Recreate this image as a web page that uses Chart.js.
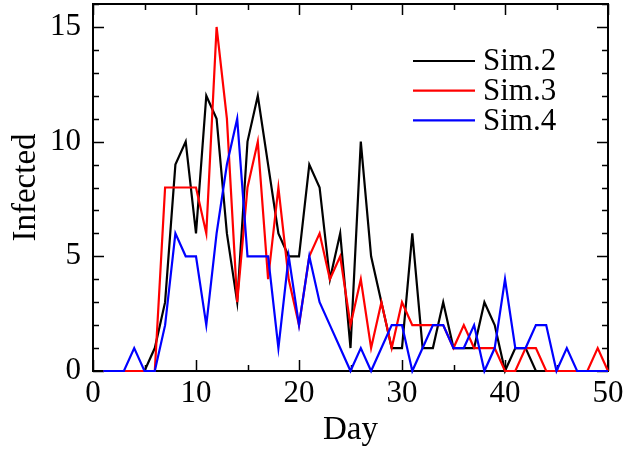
<!DOCTYPE html>
<html>
<head>
<meta charset="utf-8">
<script src="https://cdn.jsdelivr.net/npm/chart.js@4.4.1/dist/chart.umd.min.js"></script>
<style>
  html, body { margin: 0; padding: 0; background: #fff; }
  canvas { display: block; }
</style>
</head>
<body>
<canvas id="chart" width="642" height="450"></canvas>
<script>
// days 1..50
const days = [
  1, 2, 3, 4, 5, 6, 7, 8, 9, 10, 11, 12, 13, 14, 15, 16, 17, 18, 19, 20, 21, 22, 23, 24, 25,
  26, 27, 28, 29, 30, 31, 32, 33, 34, 35, 36, 37, 38, 39, 40, 41, 42, 43, 44, 45, 46, 47, 48, 49, 50
];
const sim2 = [
  0, 0, 0, 0, 0, 1, 3, 9, 10, 6, 12, 11, 6, 3, 10, 12, 9, 6, 5, 5, 9, 8, 4, 6, 1,
  10, 5, 3, 1, 1, 6, 1, 1, 3, 1, 1, 1, 3, 2, 0, 1, 1, 0, 0, 0, 0, 0, 0, 0, 0
];
const sim3 = [
  0, 0, 0, 0, 0, 0, 8, 8, 8, 8, 6, 15, 11, 3, 8, 10, 4, 8, 4, 2, 5, 6, 4, 5, 2,
  4, 1, 3, 1, 3, 2, 2, 2, 2, 1, 2, 1, 1, 1, 0, 0, 1, 1, 0, 0, 0, 0, 0, 1, 0
];
const sim4 = [
  0, 0, 0, 1, 0, 0, 2, 6, 5, 5, 2, 6, 9, 11, 5, 5, 5, 1, 5, 2, 5, 3, 2, 1, 0,
  1, 0, 1, 2, 2, 0, 1, 2, 2, 1, 1, 2, 0, 1, 4, 1, 1, 2, 2, 0, 1, 0, 0, 0, 0
];
const seriesNames = ["Sim.2", "Sim.3", "Sim.4"];
const seriesColors = ["#000000", "#ff0000", "#0000ff"];
const xTicks = [0, 10, 20, 30, 40, 50];
const yTicks = [0, 5, 10, 15];

const serif = "Liberation Serif";

const toPoints = (vals) => vals.map((v, i) => ({ x: days[i], y: v }));

// no automatic label padding, the plot box is fixed by afterFit
const noPad = (s) => {
  s.paddingTop = 0; s.paddingBottom = 0;
  s.paddingLeft = 0; s.paddingRight = 0;
};

// axis box with inward ticks on all four sides, plus the legend
const framePlugin = {
  id: "frame",
  beforeDatasetsDraw(chart) {
    const { ctx, chartArea: a, scales: { x, y } } = chart;
    ctx.save();
    ctx.strokeStyle = "#000";
    ctx.lineWidth = 1.5;
    ctx.beginPath();
    for (let v = x.min; v <= x.max; v += 5) {
      const px = Math.round(x.getPixelForValue(v)) + 0.5;
      const len = v % 10 === 0 ? 11 : 6;
      ctx.moveTo(px, a.bottom); ctx.lineTo(px, a.bottom - len);
      ctx.moveTo(px, a.top); ctx.lineTo(px, a.top + len);
    }
    for (let v = y.min; v <= y.max; v += 1) {
      const py = Math.round(y.getPixelForValue(v)) + 0.5;
      const len = v % 5 === 0 ? 11 : 6;
      ctx.moveTo(a.left, py); ctx.lineTo(a.left + len, py);
      ctx.moveTo(a.right, py); ctx.lineTo(a.right - len, py);
    }
    ctx.stroke();
    ctx.lineWidth = 2;
    ctx.strokeRect(a.left, a.top, a.right - a.left, a.bottom - a.top);
    ctx.restore();
  },
  afterDraw(chart) {
    const { ctx } = chart;
    ctx.save();
    ctx.font = '31px "' + serif + '"';
    ctx.textBaseline = "middle";
    ctx.textAlign = "left";
    chart.data.datasets.forEach((ds, i) => {
      const yy = 61 + i * 29.7;
      ctx.strokeStyle = ds.borderColor;
      ctx.lineWidth = 2.2;
      ctx.beginPath();
      ctx.moveTo(413, yy);
      ctx.lineTo(475, yy);
      ctx.stroke();
      ctx.fillStyle = "#000";
      ctx.fillText(ds.label, 483, yy + 1);
    });
    ctx.restore();
  }
};

new Chart(document.getElementById("chart"), {
  type: "line",
  data: {
    datasets: [sim2, sim3, sim4].map((vals, i) => ({
      label: seriesNames[i],
      data: toPoints(vals),
      borderColor: seriesColors[i],
      backgroundColor: seriesColors[i],
      borderWidth: 2.2,
      pointRadius: 0,
      tension: 0,
      fill: false,
      clip: false,
      order: 2 - i
    }))
  },
  options: {
    responsive: false,
    animation: false,
    layout: { padding: { top: 4, right: 34, left: 0, bottom: 0 } },
    plugins: {
      legend: { display: false },
      tooltip: { enabled: false }
    },
    scales: {
      x: {
        type: "linear",
        min: 0,
        max: 50,
        afterFit: (s) => { s.height = 79; noPad(s); },
        afterBuildTicks: (s) => { s.ticks = xTicks.map((v) => ({ value: v })); },
        grid: { display: false },
        border: { display: false },
        ticks: { color: "#000", font: { family: serif, size: 31 }, padding: -4, maxRotation: 0 },
        title: { display: true, text: "Day", color: "#000", font: { family: serif, size: 33 }, padding: { top: 0, bottom: 0 } }
      },
      y: {
        min: 0,
        max: 16,
        afterFit: (s) => { s.width = 93; noPad(s); },
        afterBuildTicks: (s) => { s.ticks = yTicks.map((v) => ({ value: v })); },
        grid: { display: false },
        border: { display: false },
        ticks: { color: "#000", font: { family: serif, size: 31 }, padding: 4 },
        title: { display: true, text: "Infected", color: "#000", font: { family: serif, size: 33 }, padding: { top: 7, bottom: 0 } }
      }
    }
  },
  plugins: [framePlugin]
});
</script>
</body>
</html>
